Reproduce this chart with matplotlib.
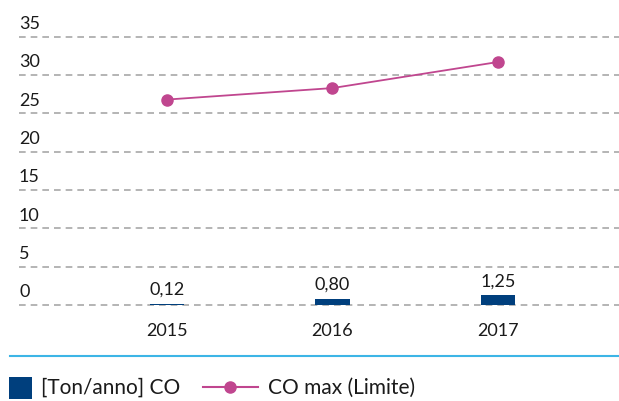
import matplotlib
matplotlib.use("Agg")
import matplotlib.pyplot as plt
from matplotlib.patches import Rectangle
from matplotlib.lines import Line2D

plt.rcParams['font.family'] = ['Lato', 'DejaVu Sans']

years = ["2015", "2016", "2017"]
co_ton = [0.12, 0.80, 1.25]
co_ton_labels = ["0,12", "0,80", "1,25"]
co_max = [26.8, 28.3, 31.7]
yticks = [0, 5, 10, 15, 20, 25, 30, 35]

BAR = "#003f7d"
LINE = "#c0468f"
GRID = "#a8a8a8"
TXT = "#1a1a1a"

W, H = 619, 401
fig = plt.figure(figsize=(W / 100, H / 100), dpi=100)

left_px, right_px = 19, 619
bottom_px, top_px = 312.7, 13.7
ax = fig.add_axes([left_px / W, (H - bottom_px) / H, (right_px - left_px) / W, (bottom_px - top_px) / H])
ax.set_ylim(-1, 38)
ax.set_xlim(-0.894, 2.731)
for s in ax.spines.values():
    s.set_visible(False)
ax.set_xticks([])
ax.set_yticks([])

x = list(range(len(years)))

for v in yticks:
    ax.axhline(v, color=GRID, lw=1.2, ls=(0, (4, 3)), zorder=1)
    ax.annotate(str(v), xy=(0, v), xycoords=ax.get_yaxis_transform(),
                xytext=(0, 3.5), textcoords="offset points",
                ha="left", va="bottom", fontsize=13, color=TXT)

ax.bar(x, co_ton, width=0.21, color=BAR, zorder=2)
for xi, v, lab in zip(x, co_ton, co_ton_labels):
    ax.annotate(lab, xy=(xi, v), xytext=(0, 4.5), textcoords="offset points",
                ha="center", va="bottom", fontsize=13, color=TXT)

ax.plot(x, co_max, color=LINE, lw=1.3, marker="o", markersize=8, zorder=3)

for xi, lab in zip(x, years):
    ax.annotate(lab, xy=(xi, 0), xytext=(0, -19), textcoords="offset points",
                ha="center", va="center", fontsize=13, color=TXT)

fig.add_artist(Line2D([10 / W, 1.0], [(H - 355.5) / H] * 2, color="#3db5e6", lw=1.5))

fig.add_artist(Rectangle((9 / W, (H - 399) / H), 23 / W, 22 / H, color=BAR, lw=0))
fig.text(41 / W, (H - 388) / H, "[Ton/anno] CO", fontsize=15, color=TXT, va="center", ha="left")
fig.add_artist(Line2D([203 / W, 258 / W], [(H - 387) / H] * 2, color=LINE, lw=1.5))
fig.add_artist(Line2D([230 / W], [(H - 387) / H], color=LINE, marker="o", markersize=8))
fig.text(268 / W, (H - 388) / H, "CO max (Limite)", fontsize=15, color=TXT, va="center", ha="left")

fig.savefig("out.png", dpi=100)
